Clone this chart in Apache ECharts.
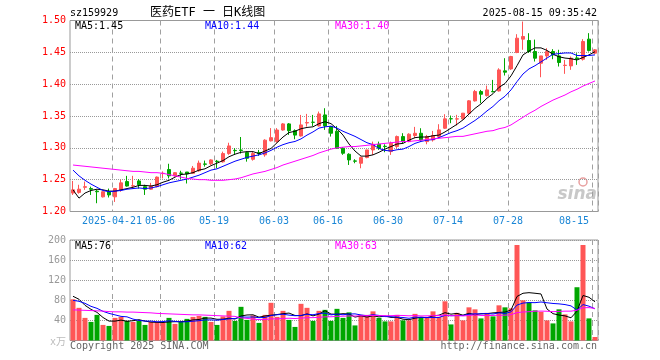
<!DOCTYPE html>
<html><head><meta charset="utf-8">
<script src="https://cdn.jsdelivr.net/npm/echarts@6/dist/echarts.min.js"></script>
<style>html,body{margin:0;padding:0;background:#fff}#c{width:660px;height:360px}</style>
</head><body><div id="c"></div>
<script>
const dates = ['2025-04-10','2025-04-11','2025-04-14','2025-04-15','2025-04-16','2025-04-17','2025-04-18','2025-04-21','2025-04-22','2025-04-23','2025-04-24','2025-04-25','2025-04-28','2025-04-29','2025-04-30',
'2025-05-06','2025-05-07','2025-05-08','2025-05-09','2025-05-12','2025-05-13','2025-05-14','2025-05-15','2025-05-16','2025-05-19','2025-05-20','2025-05-21','2025-05-22','2025-05-23','2025-05-26','2025-05-27','2025-05-28','2025-05-29','2025-05-30',
'2025-06-03','2025-06-04','2025-06-05','2025-06-06','2025-06-09','2025-06-10','2025-06-11','2025-06-12','2025-06-13','2025-06-16','2025-06-17','2025-06-18','2025-06-19','2025-06-20','2025-06-23','2025-06-24','2025-06-25','2025-06-26','2025-06-27','2025-06-30',
'2025-07-01','2025-07-02','2025-07-03','2025-07-04','2025-07-07','2025-07-08','2025-07-09','2025-07-10','2025-07-11','2025-07-14','2025-07-15','2025-07-16','2025-07-17','2025-07-18','2025-07-21','2025-07-22','2025-07-23','2025-07-24','2025-07-25','2025-07-28','2025-07-29','2025-07-30','2025-07-31',
'2025-08-01','2025-08-04','2025-08-05','2025-08-06','2025-08-07','2025-08-08','2025-08-11','2025-08-12','2025-08-13','2025-08-14','2025-08-15'];

const opens = [1.229,1.230,1.238,1.236,1.232,1.223,1.231,1.223,1.234,1.247,
1.240,1.248,1.239,1.235,1.239,1.2595,1.266,1.256,1.2603,1.262,
1.260,1.264,1.2747,1.275,1.279,1.278,1.291,1.296,1.2965,1.2925,
1.282,1.2925,1.289,1.311,1.310,1.328,1.3376,1.327,1.3187,1.339,
1.3403,1.3344,1.3517,1.3334,1.326,1.2993,1.2899,1.2795,1.2758,1.2847,
1.2967,1.3056,1.3025,1.2941,1.302,1.3177,1.3098,1.3193,1.3229,1.3098,
1.3124,1.3177,1.3308,1.3458,1.3452,1.3455,1.3544,1.3737,1.3884,1.3821,
1.3885,1.3894,1.4209,1.424,1.4497,1.4707,1.4686,1.4513,1.4329,1.4444,
1.4513,1.4444,1.4293,1.4287,1.4412,1.4392,1.4707,1.4487];

const closes = [1.234,1.235,1.239,1.235,1.231,1.231,1.226,1.236,1.245,1.240,
1.2405,1.242,1.235,1.240,1.254,1.260,1.256,1.261,1.260,1.259,
1.268,1.276,1.2742,1.281,1.2785,1.291,1.303,1.2955,1.296,1.2836,
1.291,1.291,1.312,1.316,1.328,1.3376,1.327,1.320,1.336,1.3397,
1.340,1.3533,1.3344,1.3229,1.2993,1.2915,1.281,1.279,1.2847,1.2967,
1.3056,1.2993,1.302,1.3072,1.3177,1.3098,1.3214,1.3229,1.3124,1.3177,
1.3193,1.3282,1.3455,1.3455,1.3455,1.3544,1.3738,1.3884,1.3842,1.391,
1.388,1.4224,1.4188,1.4434,1.4722,1.4749,1.4513,1.4408,1.4444,1.4513,
1.446,1.434,1.4298,1.4408,1.440,1.467,1.4528,1.4539];

const lows = [1.226,1.228,1.234,1.226,1.213,1.222,1.222,1.215,1.231,1.239,
1.236,1.236,1.226,1.234,1.238,1.252,1.252,1.2548,1.251,1.244,
1.260,1.2625,1.2705,1.273,1.268,1.2768,1.289,1.289,1.291,1.2783,
1.2799,1.2873,1.286,1.310,1.308,1.327,1.3203,1.3135,1.3177,1.3334,
1.3344,1.3334,1.3282,1.3177,1.2983,1.289,1.2731,1.2758,1.2679,1.2836,
1.2889,1.2967,1.2931,1.2889,1.2993,1.3072,1.3088,1.3151,1.3098,1.3056,
1.3098,1.315,1.3297,1.3387,1.335,1.3444,1.3528,1.3727,1.3702,1.3805,
1.3874,1.3884,1.4136,1.4224,1.4487,1.454,1.449,1.4356,1.4109,1.4382,
1.4392,1.4277,1.4162,1.4225,1.4303,1.4371,1.4513,1.4476];

const highs = [1.248,1.242,1.247,1.239,1.234,1.232,1.236,1.237,1.250,1.256,
1.256,1.251,1.242,1.245,1.255,1.263,1.275,1.262,1.264,1.262,
1.2715,1.280,1.280,1.282,1.281,1.294,1.308,1.2995,1.317,1.2941,
1.2941,1.2967,1.3135,1.331,1.331,1.339,1.339,1.329,1.3517,1.3533,
1.3517,1.357,1.3622,1.3344,1.3344,1.301,1.2915,1.2821,1.2862,1.2967,
1.3098,1.3098,1.3056,1.3098,1.3193,1.323,1.3229,1.3329,1.3308,1.3203,
1.3266,1.3371,1.3528,1.3507,1.3518,1.3548,1.375,1.391,1.391,1.3978,
1.4067,1.425,1.4408,1.4445,1.4785,1.4984,1.480,1.470,1.4444,1.4565,
1.455,1.454,1.438,1.4434,1.4486,1.4707,1.4801,1.455];

const ma5 = [1.234,1.221,1.229,1.233,1.235,1.234,1.232,1.232,1.234,1.236,
1.238,1.241,1.241,1.240,1.242,1.246,1.249,1.254,1.258,1.259,
1.261,1.265,1.267,1.272,1.276,1.280,1.286,1.290,1.293,1.294,
1.294,1.291,1.295,1.299,1.308,1.317,1.324,1.326,1.330,1.332,
1.333,1.338,1.341,1.338,1.330,1.320,1.306,1.295,1.287,1.287,
1.289,1.293,1.298,1.302,1.306,1.307,1.312,1.316,1.317,1.317,
1.319,1.320,1.325,1.331,1.337,1.344,1.353,1.362,1.369,1.378,
1.385,1.395,1.401,1.413,1.429,1.446,1.452,1.457,1.457,1.453,
1.447,1.443,1.441,1.440,1.438,1.442,1.446,1.451];

const ma10 = [1.265,1.256,1.249,1.243,1.238,1.233,1.231,1.232,1.233,1.235,
1.236,1.237,1.236,1.237,1.239,1.242,1.245,1.247,1.249,1.251,
1.254,1.257,1.261,1.265,1.267,1.271,1.275,1.279,1.282,1.285,
1.287,1.289,1.292,1.296,1.301,1.305,1.308,1.310,1.314,1.320,
1.325,1.331,1.333,1.334,1.331,1.326,1.322,1.318,1.313,1.308,
1.305,1.299,1.296,1.295,1.297,1.298,1.302,1.307,1.310,1.312,
1.313,1.316,1.320,1.324,1.327,1.331,1.337,1.343,1.350,1.358,
1.365,1.374,1.381,1.391,1.404,1.416,1.424,1.429,1.435,1.441,
1.447,1.448,1.449,1.449,1.445,1.445,1.445,1.446];

const ma30 = [1.273,1.272,1.271,1.270,1.269,1.268,1.267,1.266,1.265,1.264,
1.263,1.263,1.262,1.261,1.261,1.260,1.258,1.256,1.254,1.252,
1.251,1.250,1.250,1.249,1.249,1.249,1.250,1.251,1.253,1.256,
1.259,1.261,1.263,1.266,1.269,1.273,1.276,1.279,1.282,1.285,
1.288,1.292,1.295,1.298,1.300,1.301,1.302,1.302,1.303,1.304,
1.305,1.306,1.307,1.308,1.309,1.310,1.310,1.311,1.312,1.313,
1.314,1.315,1.316,1.317,1.318,1.318,1.320,1.322,1.324,1.326,
1.327,1.330,1.332,1.336,1.342,1.348,1.354,1.359,1.365,1.370,
1.375,1.379,1.383,1.388,1.392,1.397,1.401,1.405];

const volumes = [82,65,45,37,51,31,29,45,47,39,
37,39,31,37,37,35,45,33,37,43,
47,49,47,37,31,48,59,39,67,41,
50,35,51,75,47,59,41,27,73,65,
39,59,61,39,63,45,56,30,51,51,
58,45,38,38,51,40,40,53,47,47,
58,47,78,32,55,40,66,62,44,55,
48,70,66,64,190,80,76,60,57,40,
34,62,52,38,106,190,44,7];

const volMa5 = [88,82,70,62,56,45.8,38.6,38.6,40.6,38.2,
39.4,41.4,38.6,36.6,36.2,35.8,37,37.4,37.4,38.6,
41,41.8,44.6,44.6,42.2,42.4,44.4,42.8,48.8,50.8,
51.2,46.4,48.8,50.4,51.6,53.4,54.6,49.8,49.4,53,
49,52.6,59.4,52.6,52.2,53.4,52.8,46.6,49,46.6,
49.2,47,48.6,46,46,42.4,41.4,44.4,46.2,45.4,
49,50.4,55.4,52.4,54,50.4,54.2,51,53.4,53.4,
55,55.8,56.6,60.6,87.6,94,95.2,94,92.6,62.6,
53.4,50.6,49,45.2,58.4,89.6,86,77];

const volMa10 = [80,78,74,68,64,58,54,51,48,47.1,
42.6,40,38.6,38.6,37.2,37.6,39.2,38,37,37.4,
38.4,39.4,41,41,40.4,41.7,43.1,43.7,46.7,46.5,
46.8,45.4,45.8,49.6,51.2,52.3,50.5,49.3,49.9,52.3,
51.2,53.6,54.6,51,52.6,51.2,52.7,53,50.8,49.4,
51.3,49.9,47.6,47.5,46.3,45.8,44.2,46.5,46.1,45.7,
45.7,45.9,49.9,49.3,49.7,49.7,52.3,53.2,52.9,53.7,
52.7,55,53.8,57,70.5,74.5,75.5,75.3,76.6,75.1,
73.7,72.9,71.5,68.9,60.5,71.5,68.3,63];

const volMa30 = [61,60.5,60,59.5,59,58.5,57.5,57,57,56.5,
56.5,56,55.5,55,54,53.5,53,52.5,52,51.5,
51,51,50.5,50,49.5,49,48.5,48,45,44,
42.6,41.6,41.8,43.1,42.9,43.9,44.3,43.7,44.5,45.4,
45.5,46.1,47.1,47.2,48.1,48.4,48.8,48.7,49.1,49.4,
49.8,49.6,49.3,49.4,50,49.8,49.1,49.6,48.9,49.1,
49.4,49.8,50.7,49.3,49.5,48.9,49.7,50.9,49.9,49.6,
49.9,50.3,50.4,51.3,55.5,56.7,57.3,58.3,58.5,58.2,
57.4,57.9,58.4,58.4,60.2,65.2,65.4,63.8];

const tickDates = ['2025-04-21','2025-05-06','2025-05-19','2025-06-03','2025-06-16','2025-06-30','2025-07-14','2025-07-28','2025-08-15'];
const tickLabels = ['2025-04-21','05-06','05-19','06-03','06-16','06-30','07-14','07-28','08-15'];

const FONT = '"DejaVu Sans Mono", "Noto Sans CJK SC", monospace';
const RED = '#ff5656', GREEN = '#00a600';
const tickIdx = tickDates.map(d => dates.indexOf(d));
const isTick = (i) => tickIdx.indexOf(i) >= 0;

const kData = dates.map((d, i) => [opens[i], closes[i], lows[i], highs[i]]);
const volData = volumes.map((v, i) => ({value: v, itemStyle: {color: closes[i] >= opens[i] ? RED : GREEN}}));

function txt(x, y, s, color, align, size) {
  return {type: 'text', x: x, y: y, silent: true, z: 10,
    style: {text: s, fill: color, font: (size || 10) + 'px ' + FONT,
      textAlign: align || 'left', align: align || 'left', textVerticalAlign: 'middle', verticalAlign: 'middle'}};
}

const lineS = (data, color, xi) => ({type: 'line', data: data, xAxisIndex: xi, yAxisIndex: xi, symbol: 'none', showSymbol: false,
  lineStyle: {color: color, width: 1}, silent: true});
const noSplit = {show: false};
const gridX = (gi) => ({type: 'category', gridIndex: gi, data: dates, axisTick: {show: false}, axisLine: {show: false}, axisLabel: {show: false},
  splitLine: {show: true, interval: (i) => isTick(i), lineStyle: {color: '#a0a0a0', type: [5, 4]}}});
const gridY = (gi, mn, mx, iv) => ({type: 'value', gridIndex: gi, min: mn, max: mx, interval: iv, axisTick: {show: false}, axisLine: {show: false}, axisLabel: {show: false},
  splitLine: {show: true, lineStyle: {color: '#999999', type: [1, 1]}}});

const chart = echarts.init(document.getElementById('c'));
chart.setOption({
  animation: false,
  backgroundColor: '#fff',
  textStyle: {fontFamily: FONT},
  grid: [
    {left: 70, right: 62, top: 20.5, height: 191, show: true, borderColor: '#999', borderWidth: 1, backgroundColor: 'transparent'},
    {left: 70, right: 62, top: 240, height: 100.5, show: true, borderColor: '#999', borderWidth: 1, backgroundColor: 'transparent'}
  ],
  xAxis: [
    {type: 'category', gridIndex: 0, data: dates,
      axisLine: {show: false}, axisTick: {show: false},
      axisLabel: {show: true, interval: (i) => isTick(i), formatter: (v) => tickLabels[tickDates.indexOf(v)],
        color: '#1a86d6', fontSize: 10, fontFamily: FONT, margin: 5, padding: [0, 6, 0, 0], alignMaxLabel: 'right'},
      splitLine: noSplit},
    {type: 'category', gridIndex: 1, data: dates,
      axisLine: {show: false}, axisTick: {show: false}, axisLabel: {show: false}, splitLine: noSplit},
    gridX(0), gridX(1)
  ],
  yAxis: [
    {type: 'value', gridIndex: 0, min: 1.2, max: 1.5, interval: 0.05,
      axisLine: {show: false}, axisTick: {show: false},
      axisLabel: {color: '#ff0000', fontSize: 10, fontFamily: FONT, margin: 4, formatter: (v) => v.toFixed(2)},
      splitLine: {show: false}},
    {type: 'value', gridIndex: 1, min: 0, max: 200, interval: 40,
      axisLine: {show: false}, axisTick: {show: false},
      axisLabel: {color: '#999', fontSize: 10, fontFamily: FONT, margin: 4, formatter: (v) => v === 0 ? '' : String(v)},
      splitLine: {show: false}},
    gridY(0, 1.2, 1.5, 0.05), gridY(1, 0, 200, 40)
  ],
  series: [
    {type: 'candlestick', xAxisIndex: 0, yAxisIndex: 0, data: kData, barWidth: 4,
      itemStyle: {color: RED, color0: GREEN, borderColor: RED, borderColor0: GREEN, borderWidth: 1}},
    lineS(ma5, '#000000', 0),
    lineS(ma10, '#0000ff', 0),
    lineS(ma30, '#ff00ff', 0),
    {type: 'bar', xAxisIndex: 1, yAxisIndex: 1, data: volData, barWidth: 5},
    lineS(volMa5, '#000000', 1),
    lineS(volMa10, '#0000ff', 1),
    lineS(volMa30, '#ff00ff', 1)
  ],
  graphic: [
    txt(70, 13, 'sz159929', '#000'),
    txt(150, 12.5, '医药ETF 一 日K线图', '#000', 'left', 12),
    txt(597, 13, '2025-08-15 09:35:42', '#000', 'right'),
    txt(75, 26, 'MA5:1.45', '#000'),
    txt(205, 26, 'MA10:1.44', '#0000ff'),
    txt(335, 26, 'MA30:1.40', '#ff00ff'),
    txt(75, 246, 'MA5:76', '#000'),
    txt(205, 246, 'MA10:62', '#0000ff'),
    txt(335, 246, 'MA30:63', '#ff00ff'),
    txt(50, 342, 'x万', '#bbb'),
    txt(70, 346, 'Copyright 2025 SINA.COM', '#666'),
    txt(597, 346, 'http://finance.sina.com.cn', '#666', 'right'),
    {type: 'text', x: 597, y: 195, silent: true, style: {text: 'sina', fill: '#c8c8c8', font: 'italic bold 17px "DejaVu Sans", sans-serif', textAlign: 'right', align: 'right', textVerticalAlign: 'middle', verticalAlign: 'middle'}},
    {type: 'circle', shape: {cx: 583, cy: 182, r: 4}, silent: true, style: {fill: 'none', stroke: '#e8a0a0', lineWidth: 1.5}}
  ]
});
</script>
</body></html>
